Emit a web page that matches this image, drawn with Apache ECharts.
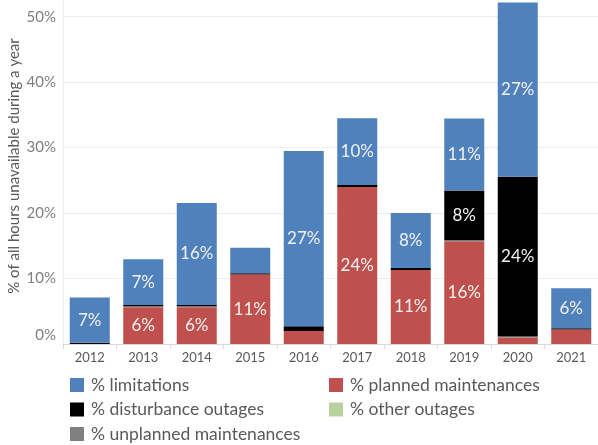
<!DOCTYPE html>
<html>
<head>
<meta charset="utf-8">
<script src="https://cdn.jsdelivr.net/npm/echarts@6/dist/echarts.min.js"></script>
<style>
  html, body { margin: 0; padding: 0; background: #fff; }
  #chart { width: 598px; height: 445px; }
</style>
</head>
<body>
<div id="chart"></div>
<script>
// Share of all hours in a year that were unavailable, by cause (%)
const years = ['2012', '2013', '2014', '2015', '2016', '2017', '2018', '2019', '2020', '2021'];
const planned      = [0,   5.6, 5.6, 10.6, 2.0, 24.0, 11.3, 15.7, 1.0, 2.2];
const unplanned    = [0,   0.15, 0.15, 0,  0,   0,    0,    0.15, 0.15, 0];
const other        = [0,   0,   0,   0,    0,   0,    0,    0,    0,   0];
const disturbance  = [0.2, 0.2, 0.2, 0.2,  0.7, 0.3,  0.3,  7.6,  24.4, 0.2];
const limitations  = [6.9, 7.0, 15.6, 3.9, 26.8, 10.2, 8.4, 11.0, 26.6, 6.1];
const yTicks = [0, 10, 20, 30, 40, 50];
const yTop = 52.55; // value axis runs a little past the last labelled tick

const FONT = 'Lato';
const chart = echarts.init(document.getElementById('chart'), null, { renderer: 'canvas' });

function stackSeries(name, data, color) {
  return {
    name: name,
    type: 'bar',
    stack: 'total',
    data: data,
    barWidth: 40,
    itemStyle: { color: color },
    label: {
      show: true,
      position: 'inside',
      color: '#f2f2f2',
      fontFamily: FONT,
      fontSize: 17,
      formatter: p => (p.value >= 5 ? Math.round(p.value) + '%' : '')
    },
    emphasis: { disabled: true }
  };
}

const legendText = { color: '#595959', fontFamily: FONT, fontSize: 17.5, padding: [0, 0, 0, 2] };
function legendItem(name, left, top) {
  return {
    left: left, top: top, padding: 0, itemWidth: 14, itemHeight: 14, icon: 'rect',
    textStyle: legendText, data: [name]
  };
}

chart.setOption({
  animation: false,
  backgroundColor: '#ffffff',
  grid: { left: 63, top: 0, width: 538, height: 344, containLabel: false },
  legend: [
    legendItem('% limitations', 70, 376),
    legendItem('% planned maintenances', 329, 376),
    legendItem('% disturbance outages', 70, 400.5),
    legendItem('% other outages', 329, 400.5),
    legendItem('% unplanned maintenances', 70, 425)
  ],
  xAxis: {
    type: 'category',
    data: years,
    axisLine: { lineStyle: { color: '#d9d9d9' } },
    axisTick: { show: true, length: 5, lineStyle: { color: '#d9d9d9' } },
    axisLabel: { color: '#595959', fontFamily: FONT, fontSize: 13, margin: 7 }
  },
  yAxis: {
    type: 'value',
    min: yTicks[0],
    max: yTop,
    interval: 10,
    axisLine: { show: true, lineStyle: { color: '#eeeeee' } },
    axisTick: { show: false },
    splitLine: { showMaxLine: false, lineStyle: { color: '#ececec' } },
    axisLabel: {
      showMaxLabel: false,
      color: '#7f7f7f', fontFamily: FONT, fontSize: 15, margin: 7,
      formatter: v => (yTicks.indexOf(v) < 0 ? '' : (v === 0 ? '{z|0%}' : v + '%')),
      rich: { z: { color: '#7f7f7f', fontFamily: FONT, fontSize: 15, padding: [0, 0, 18, 0] } }
    }
  },
  graphic: [{
    type: 'text',
    x: 14, y: 166,
    rotation: Math.PI / 2,
    style: {
      text: '% of all hours unavailable during a year',
      fill: '#595959',
      font: '15px ' + FONT,
      textAlign: 'center',
      textVerticalAlign: 'middle'
    }
  }],
  series: [
    stackSeries('% planned maintenances', planned, '#c0504d'),
    stackSeries('% unplanned maintenances', unplanned, '#808080'),
    stackSeries('% other outages', other, '#b9d19c'),
    stackSeries('% disturbance outages', disturbance, '#000000'),
    stackSeries('% limitations', limitations, '#4f81bd')
  ]
});
</script>
</body>
</html>
